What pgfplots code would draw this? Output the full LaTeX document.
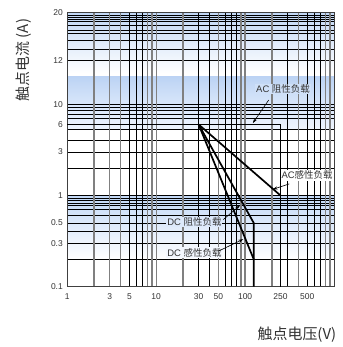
\documentclass[border=0pt]{standalone}
\usepackage{fontspec}
\setmainfont{Liberation Sans}
\newfontfamily\cjk{Noto Sans CJK SC}
\usepackage{pgfplots}
\pgfplotsset{compat=1.18}
\usetikzlibrary{arrows.meta}
\definecolor{gridgray}{HTML}{808080}
\definecolor{txt}{HTML}{333333}
\begin{document}
\begin{tikzpicture}
\begin{axis}[
  set layers=standard,
  scale only axis, width=266.7bp, height=273.7bp,
  xmode=log, ymode=log, xmin=1, xmax=1000, ymin=0.1, ymax=100,
  xtick={1,3,5,10,30,50,100,250,500},
  xticklabels={1,3,5,10,30,50,100,250,500},
  ytick={0.1,0.3,0.5,1,3,6,10,30,100},
  yticklabels={0.1,0.3,0.5,1,3,6,10,12,20},
  minor xtick={5,6,7,30,40,60,70,80,300,500,600,700},
  minor ytick={0.2,0.3,0.4,0.5,0.6,0.7,0.77,0.82,0.88,0.93,1,2,3,4,5.3,7,7.8,8.6,9.3,10,30,40,50,60,65,74,80,85,90,95},
  extra x ticks={2,3,4,8,9,10,20,50,90,100,200,400,800,900},
  extra x tick labels={},
  extra x tick style={grid=major, major grid style={draw=gridgray, line width=1.3bp}},
  xmajorgrids=false, ymajorgrids=false, xminorgrids=true, yminorgrids=true,
  minor grid style={draw=black, line width=0.7bp},
  major tick length=0pt, minor tick length=0pt,
  axis line style={draw=black!75, line width=1bp},
  tick label style={font=\fontsize{8.5}{10}\selectfont, text=txt},
  xticklabel style={yshift=-3bp},
  yticklabel style={xshift=-1bp},
  clip=false,
]
\begin{pgfonlayer}{axis background}
\fill[top color={rgb,255:red,194;green,216;blue,246}, bottom color=white] (axis cs:1,22) rectangle (axis cs:1000,100);
\fill[top color={rgb,255:red,188;green,211;blue,244}, bottom color={rgb,255:red,217;green,231;blue,250}] (axis cs:1,10) rectangle (axis cs:1000,20);
\fill[top color={rgb,255:red,217;green,230;blue,250}, bottom color={rgb,255:red,238;green,244;blue,253}] (axis cs:1,5.3) rectangle (axis cs:1000,10);
\fill[top color={rgb,255:red,195;green,217;blue,247}, bottom color=white] (axis cs:1,0.2) rectangle (axis cs:1000,1);
\end{pgfonlayer}
% AC resistive load
\addplot[black, line width=1.7bp] coordinates {(1,6) (250,6) (250,0.1)};
% AC inductive load
\addplot[black, line width=1.7bp] coordinates {(30,6) (250,1)};
% DC resistive load
\addplot[black, line width=1.7bp] coordinates {(30,6) (125,0.5) (125,0.1)};
% DC inductive load
\addplot[black, line width=1.7bp] coordinates {(30,6) (125,0.2)};
% annotations
\tikzset{lbl/.style={inner sep=1bp, text=txt, font=\fontsize{9.5}{10}\selectfont}}
\node[lbl, fill={rgb,255:red,207;green,224;blue,248}] at (axis cs:267,14.7) {AC {\cjk 阻性负载}};
\draw[-{Stealth[length=5bp,width=3bp]}, line width=0.6bp] (axis cs:184,11.1) -- (axis cs:122,6.2);
\node[lbl, fill=white] at (axis cs:497,1.66) {AC{\cjk 感性负载}};
\draw[-{Stealth[length=5bp,width=3bp]}, line width=0.6bp] (axis cs:314,1.34) -- (axis cs:204,1.166);
\node[lbl, fill={rgb,255:red,221;green,233;blue,251}] at (axis cs:26.9,0.513) {DC {\cjk 阻性负载}};
\draw[-{Stealth[length=5bp,width=3bp]}, line width=0.6bp] (axis cs:56.9,0.544) -- (axis cs:87.7,0.78);
\node[lbl, fill={rgb,255:red,243;green,247;blue,254}] at (axis cs:26.9,0.2376) {DC {\cjk 感性负载}};
\draw[-{Stealth[length=5bp,width=3bp]}, line width=0.6bp] (axis cs:50,0.245) -- (axis cs:95.5,0.332);
\node[rotate=90, text=txt, font=\cjk\fontsize{15}{17}\selectfont] at (rel axis cs:-0.162,0.828) {触点电流 (A)};
\node[text=txt, font=\cjk\fontsize{15}{17}\selectfont] at (rel axis cs:0.861,-0.175) {触点电压(V)};
\end{axis}
\pgfresetboundingbox
\path ([shift={(-67.3bp,-60.3bp)}]current axis.south west) rectangle ([shift={(8bp,13bp)}]current axis.north east);
\end{tikzpicture}
\end{document}
